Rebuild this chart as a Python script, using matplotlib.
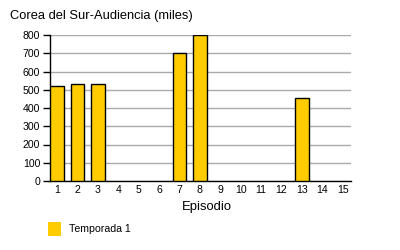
import matplotlib
matplotlib.use("Agg")
import matplotlib.pyplot as plt
from matplotlib.patches import Patch

plt.rcParams['font.family'] = ['Liberation Sans', 'DejaVu Sans']

# Episodes and audience (thousands), season 1
episodes = list(range(1, 16))
episodeLabels = [str(e) for e in episodes]
audienceEpisodes = [1, 2, 3, 7, 8, 13]
audience = [520, 530, 530, 700, 800, 455]
seriesName = "Temporada 1"
yTicks = [0, 100, 200, 300, 400, 500, 600, 700, 800]

barColor = "#FFCC00"

fig = plt.figure(figsize=(4, 2.5), dpi=100)
ax = fig.add_axes([50/400, 1 - 181/250, 301/400, 146/250])

ax.bar(audienceEpisodes, audience, width=0.67, color=barColor,
       edgecolor="black", linewidth=1, zorder=3)

ax.set_xlim(0.657, 15.41)
ax.set_ylim(0, 800)
ax.set_yticks(yTicks)
ax.set_xticks(episodes)
ax.set_xticklabels(episodeLabels)
ax.tick_params(axis='x', length=0, pad=3, labelsize=7.6)
ax.tick_params(axis='y', length=5, width=1, pad=2, labelsize=7.6)
ax.yaxis.grid(True, color="#aaaaaa", linewidth=1, zorder=0)
ax.set_axisbelow(True)
for s in ['top', 'right']:
    ax.spines[s].set_visible(False)
ax.spines['left'].set_linewidth(1)
ax.spines['bottom'].set_linewidth(1)

ax.set_xlabel("Episodio", fontsize=9.4)
ax.xaxis.set_label_coords((207 - 50) / 301, -(201 - 181) / 146)

fig.text(10/400, 1 - 16/250, "Corea del Sur-Audiencia (miles)",
         fontsize=9.3, va='center', ha='left')

handle = Patch(facecolor=barColor, edgecolor='none')
fig.legend([handle], [seriesName], loc='center left',
           bbox_to_anchor=(48/400, 1 - 229/250), frameon=False,
           fontsize=7.6, handlelength=1.25, handleheight=1.7,
           handletextpad=0.75, borderpad=0, borderaxespad=0)

fig.savefig("out.png", dpi=100)
